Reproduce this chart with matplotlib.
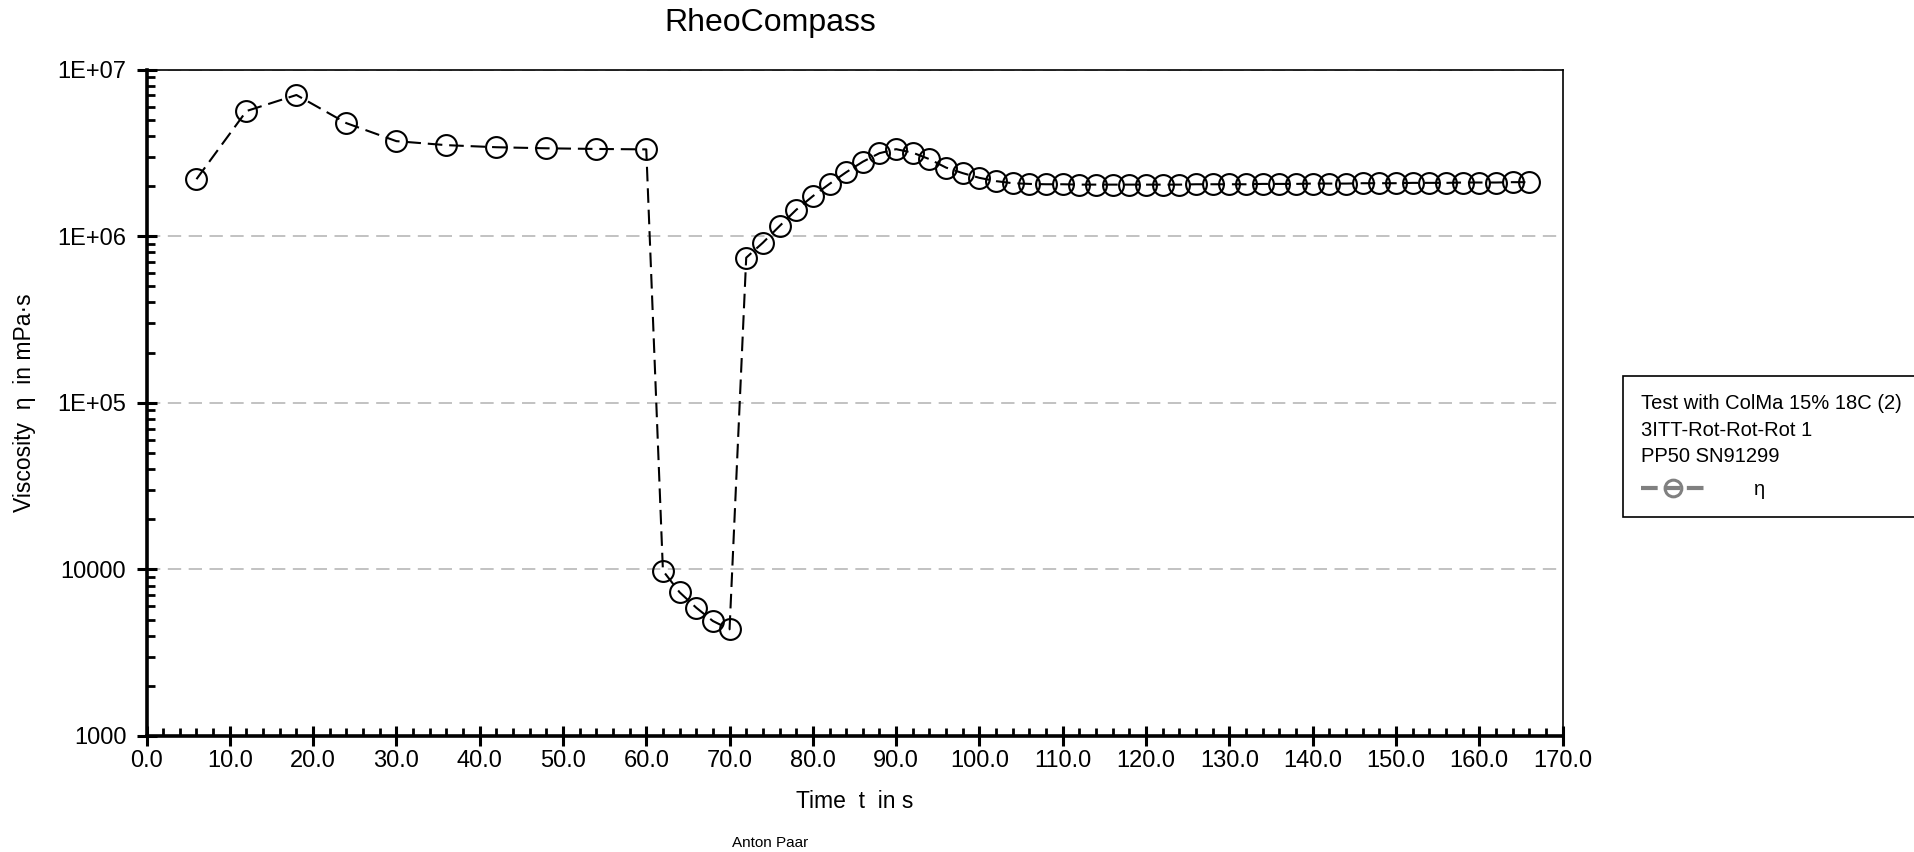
import numpy as np
import matplotlib
matplotlib.use("Agg")
import matplotlib.pyplot as plt
from matplotlib.ticker import MultipleLocator, LogLocator, NullFormatter, FormatStrFormatter
from matplotlib.lines import Line2D

plt.rcParams["font.family"] = ["Liberation Sans", "DejaVu Sans"]

# time in s, viscosity in mPa.s
t_rest1 = [6, 12, 18, 24, 30, 36, 42, 48, 54, 60]
eta_rest1 = [2.20e6, 5.64e6, 7.04e6, 4.77e6, 3.72e6, 3.52e6, 3.42e6, 3.37e6, 3.34e6, 3.32e6]
t_shear = [62, 64, 66, 68, 70]
eta_shear = [9820, 7290, 5890, 4900, 4370]
t_rest2 = list(range(72, 168, 2))
eta_rest2 = [7.43e5, 9.14e5, 1.15e6, 1.44e6, 1.74e6, 2.06e6, 2.42e6, 2.80e6, 3.15e6, 3.33e6,
             3.17e6, 2.90e6, 2.58e6, 2.39e6, 2.24e6, 2.14e6, 2.08e6, 2.06e6, 2.05e6, 2.05e6,
             2.04e6, 2.04e6, 2.04e6, 2.04e6, 2.04e6, 2.04e6, 2.04e6, 2.05e6, 2.05e6, 2.05e6,
             2.05e6, 2.06e6, 2.06e6, 2.06e6, 2.07e6, 2.07e6, 2.07e6, 2.08e6, 2.08e6, 2.08e6,
             2.09e6, 2.09e6, 2.09e6, 2.10e6, 2.10e6, 2.10e6, 2.11e6, 2.11e6]

t = t_rest1 + t_shear + t_rest2
eta = eta_rest1 + eta_shear + eta_rest2

y_ticks = [1e3, 1e4, 1e5, 1e6, 1e7]
y_ticklabels = ["1000", "10000", "1E+05", "1E+06", "1E+07"]

legend_title = "Test with ColMa 15% 18C (2)\n3ITT-Rot-Rot-Rot 1\nPP50 SN91299"

fig = plt.figure(figsize=(19.14, 8.52), dpi=100)
ax = fig.add_axes([146.5 / 1914, 1 - 736 / 852, 1416 / 1914, 666.4 / 852])

ax.plot(t, eta, color="black", lw=1.5, dashes=(7, 3.3), marker="o", ms=15,
        mfc="none", mec="black", mew=1.5, zorder=3)

ax.set_yscale("log")
ax.set_ylim(1e3, 1e7)
ax.set_xlim(0, 170)
ax.set_yticks(y_ticks, y_ticklabels)
ax.yaxis.set_minor_locator(LogLocator(base=10, subs=np.arange(2, 10)))
ax.yaxis.set_minor_formatter(NullFormatter())
ax.xaxis.set_major_locator(MultipleLocator(10))
ax.xaxis.set_minor_locator(MultipleLocator(2))
ax.xaxis.set_major_formatter(FormatStrFormatter("%.1f"))

ax.grid(axis="y", which="major", color="#b8b8b8", lw=1.2, dashes=(8, 4.5))
ax.set_axisbelow(True)

for s in ("left", "bottom"):
    ax.spines[s].set_linewidth(2.6)
for s in ("top", "right"):
    ax.spines[s].set_linewidth(1.2)

ax.tick_params(which="major", direction="inout", length=14, width=2.2, labelsize=17)
ax.tick_params(which="minor", direction="in", length=6, width=2.0)
ax.tick_params(axis="y", which="major", pad=7.5)
ax.tick_params(axis="x", which="major", pad=3)
ax.tick_params(top=False, right=False, which="both")

ax.set_xlabel("Time  t  in s", fontsize=16.5)
ax.xaxis.set_label_coords(0.5, -0.081)
ax.xaxis.label.set_va("top")
ax.set_ylabel("Viscosity  η  in mPa·s", fontsize=16.5)
ax.yaxis.label.set_va("center")
ax.yaxis.set_label_coords(-0.0865, 0.5)

fig.text(770 / 1914, 1 - 23.5 / 852, "RheoCompass", ha="center", va="center", fontsize=23)
fig.text(770 / 1914, 1 - 843 / 852, "Anton Paar", ha="center", va="center", fontsize=11)

handle = Line2D([], [], color="#808080", lw=3, dashes=(4, 1.5), marker="o", ms=12,
                mfc="none", mec="#808080", mew=2.2)
leg = fig.legend([handle], ["η"], loc="upper left", bbox_to_anchor=(1623 / 1914, 1 - 376 / 852),
                 borderaxespad=0, title=legend_title, alignment="left",
                 fontsize=14.5, title_fontsize=14.5,
                 frameon=True, fancybox=False, edgecolor="black", framealpha=1,
                 borderpad=0.9, handlelength=3.2, handletextpad=2.4, labelspacing=0.7)
leg.get_frame().set_linewidth(1.2)
leg.get_title().set_linespacing(1.5)

fig.savefig("out.png", dpi=100)
